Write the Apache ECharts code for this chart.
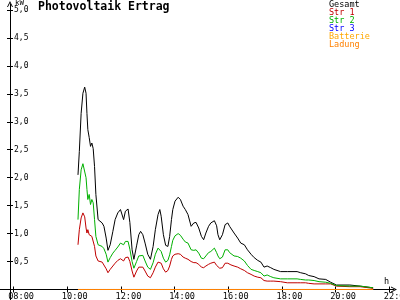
<!DOCTYPE html>
<html><head><meta charset="utf-8">
<script src="https://cdn.jsdelivr.net/npm/echarts@6/dist/echarts.min.js"></script>
<style>html,body{margin:0;padding:0;background:#fff}#c{width:400px;height:300px}</style>
</head><body><div id="c"></div>
<script>
const times = [
'10:24','10:27','10:31','10:35','10:39','10:42','10:44','10:46','10:49','10:52',
'10:55','10:58','11:01','11:04','11:09','11:13','11:18','11:22','11:27','11:31',
'11:36','11:42','11:47','11:53','11:59','12:02','12:06','12:10','12:16','12:20',
'12:25','12:29','12:35','12:40','12:44','12:49','12:54','13:00','13:06','13:12',
'13:17','13:23','13:27','13:30','13:35','13:40','13:45','13:49','13:53','13:56',
'14:01','14:08','14:13','14:19','14:24','14:30','14:37','14:43','14:48','14:54',
'15:00','15:05','15:10','15:16','15:21','15:29','15:34','15:37','15:41','15:47',
'15:53','15:59','16:03','16:06','16:13','16:21','16:28','16:36','16:43','16:51',
'16:58','17:06','17:13','17:20','17:27','17:35','17:42','17:57','18:12','18:34',
'18:42','18:53','19:00','19:12','19:23','19:38','19:49','20:02','20:32','20:55',
'21:24'];
const gesamt = [
2.05,2.47,3.15,3.51,3.62,3.51,3.15,2.86,2.72,2.56,
2.62,2.52,2.20,1.70,1.25,1.22,1.19,1.13,0.92,0.70,
0.80,1.04,1.25,1.37,1.43,1.40,1.25,1.40,1.44,1.20,
0.71,0.54,0.78,0.98,1.04,0.98,0.83,0.63,0.54,0.77,
1.07,1.34,1.43,1.31,0.98,0.79,0.77,0.95,1.25,1.43,
1.58,1.65,1.61,1.49,1.43,1.34,1.13,1.19,1.20,1.10,
0.95,0.89,1.01,1.13,1.19,1.23,1.14,0.98,0.89,0.98,
1.16,1.19,1.13,1.10,1.01,0.92,0.83,0.80,0.71,0.63,
0.57,0.52,0.49,0.40,0.42,0.39,0.36,0.32,0.32,0.32,
0.30,0.28,0.25,0.23,0.19,0.18,0.13,0.08,0.08,0.06,
0.03];
const str1 = [
0.80,1.07,1.28,1.37,1.30,1.10,1.01,1.07,0.98,1.01,
0.95,0.98,0.77,0.60,0.51,0.50,0.49,0.46,0.37,0.30,
0.36,0.42,0.47,0.52,0.55,0.57,0.51,0.57,0.58,0.50,
0.33,0.22,0.33,0.40,0.43,0.40,0.33,0.24,0.21,0.30,
0.40,0.49,0.51,0.47,0.37,0.31,0.34,0.42,0.54,0.60,
0.63,0.64,0.63,0.58,0.56,0.54,0.50,0.48,0.48,0.45,
0.40,0.39,0.42,0.45,0.47,0.49,0.43,0.40,0.38,0.39,
0.47,0.47,0.45,0.44,0.42,0.40,0.37,0.34,0.30,0.27,
0.24,0.22,0.21,0.16,0.15,0.15,0.15,0.14,0.12,0.12,
0.12,0.12,0.11,0.10,0.10,0.10,0.10,0.06,0.05,0.05,
0.02];
const str2 = [
1.25,1.79,2.14,2.25,2.22,2.00,1.79,1.61,1.70,1.52,
1.61,1.55,1.25,0.95,0.80,0.78,0.77,0.73,0.63,0.49,
0.57,0.65,0.70,0.76,0.83,0.86,0.80,0.86,0.86,0.72,
0.50,0.38,0.50,0.60,0.63,0.61,0.51,0.40,0.36,0.48,
0.63,0.74,0.74,0.68,0.56,0.49,0.52,0.62,0.77,0.88,
0.96,1.00,0.97,0.90,0.85,0.83,0.71,0.70,0.71,0.65,
0.56,0.55,0.60,0.66,0.68,0.74,0.66,0.60,0.55,0.58,
0.71,0.71,0.66,0.63,0.60,0.59,0.56,0.51,0.43,0.36,
0.34,0.32,0.30,0.24,0.26,0.23,0.21,0.19,0.19,0.19,
0.18,0.17,0.17,0.16,0.14,0.13,0.11,0.07,0.06,0.06,
0.03];
const str3 = [
0,0,0,0,0,0,0,0,0,0, 0,0,0,0,0,0,0,0,0,0, 0,0,0,0,0,0,0,0,0,0, 0,0,0,0,0,0,0,0,0,0,
0,0,0,0,0,0,0,0,0,0, 0,0,0,0,0,0,0,0,0,0, 0,0,0,0,0,0,0,0,0,0, 0,0,0,0,0,0,0,0,0,0,
0,0,0,0,0,0,0,0,0,0, 0,0,0,0,0,0,0,0,0,0, 0];
const batterie = [
0,0,0,0,0,0,0,0,0,0, 0,0,0,0,0,0,0,0,0,0, 0,0,0,0,0,0,0,0,0,0, 0,0,0,0,0,0,0,0,0,0,
0,0,0,0,0,0,0,0,0,0, 0,0,0,0,0,0,0,0,0,0, 0,0,0,0,0,0,0,0,0,0, 0,0,0,0,0,0,0,0,0,0,
0,0,0,0,0,0,0,0,0,0, 0,0,0,0,0,0,0,0,0,0, 0];
const ladung = [
0,0,0,0,0,0,0,0,0,0, 0,0,0,0,0,0,0,0,0,0, 0,0,0,0,0,0,0,0,0,0, 0,0,0,0,0,0,0,0,0,0,
0,0,0,0,0,0,0,0,0,0, 0,0,0,0,0,0,0,0,0,0, 0,0,0,0,0,0,0,0,0,0, 0,0,0,0,0,0,0,0,0,0,
0,0,0,0,0,0,0,0,0,0, 0,0,0,0,0,0,0,0,0,0, 0];
const seriesNames = ['Gesamt','Str 1','Str 2','Str 3','Batterie','Ladung'];
const xTickLabels = ['08:00','10:00','12:00','14:00','16:00','18:00','20:00','22:00'];
const yTickLabels = ['0,5','1,0','1,5','2,0','2,5','3,0','3,5','4,0','4,5','5,0'];

const colors = ['#000000','#c00000','#00b000','#0000ff','#ffa800','#ff8000'];
const FONT = 'DejaVu Sans Mono';
const toH = t => { const p = t.split(':'); return +p[0] + (+p[1]) / 60; };
const xTicks = xTickLabels.map(toH);
const yTicks = yTickLabels.map(s => parseFloat(s.replace(',', '.')));
const xLabelMap = {}; xTicks.forEach((v, i) => xLabelMap[v.toFixed(3)] = xTickLabels[i]);
const yLabelMap = {}; yTicks.forEach((v, i) => yLabelMap[v.toFixed(3)] = yTickLabels[i]);
const allVals = [gesamt, str1, str2, str3, batterie, ladung];
const arrowPath = 'path://M0,10 L5,0 L10,10 L8.4,10 L5,3.2 L1.6,10 Z';

const X_MIN = 7.493, X_MAX = 22.178, Y_MIN = -0.188, Y_MAX = 5.107;

const chart = echarts.init(document.getElementById('c'), null, {renderer: 'canvas'});
const xBase = {
  type: 'value', min: X_MIN, max: X_MAX, position: 'bottom', offset: -10.5,
  splitLine: {show: false}
};
const yBase = {
  type: 'value', min: Y_MIN, max: Y_MAX, position: 'left', offset: -10,
  splitLine: {show: false}
};
chart.setOption({
  animation: false,
  backgroundColor: '#ffffff',
  title: {
    text: 'Photovoltaik Ertrag', left: 38, top: 1, padding: 0,
    textStyle: {fontFamily: FONT, fontWeight: 'bold', fontSize: 11.5, color: '#000'}
  },
  legend: {
    orient: 'vertical', left: 324, top: 0, padding: 0, itemGap: -1,
    itemWidth: 0, itemHeight: 8, icon: 'rect', selectedMode: false,
    textStyle: {fontFamily: FONT, fontSize: 8.5, lineHeight: 8},
    data: seriesNames.map((n, i) => ({name: n, textStyle: {color: colors[i]}}))
  },
  grid: {left: 0, right: 6, top: 4, bottom: 0, containLabel: false, outerBoundsMode: 'none'},
  xAxis: [
    Object.assign({}, xBase, {
      axisLine: {show: true, onZero: false, lineStyle: {color: '#000', width: 1},
        symbol: ['none', arrowPath], symbolSize: [7, 6]},
      axisTick: {show: true, length: 3, lineStyle: {color: '#000'}, customValues: xTicks},
      axisLabel: {show: true, customValues: xTicks, margin: 3, color: '#000',
        fontFamily: FONT, fontSize: 8.6, align: 'center', padding: [0, 0, 0, 15],
        formatter: v => xLabelMap[v.toFixed(3)] || ''}
    }),
    Object.assign({}, xBase, {
      axisLine: {show: false, onZero: false},
      axisTick: {show: true, inside: true, length: 3, lineStyle: {color: '#000'}, customValues: xTicks},
      axisLabel: {show: false}
    })
  ],
  yAxis: [
    Object.assign({}, yBase, {
      axisLine: {show: true, onZero: false, lineStyle: {color: '#000', width: 1},
        symbol: ['none', arrowPath], symbolSize: [7, 6]},
      axisTick: {show: true, length: 3, lineStyle: {color: '#000'}, customValues: yTicks},
      axisLabel: {show: true, inside: true, customValues: yTicks, margin: 4, color: '#000',
        fontFamily: FONT, fontSize: 8,
        formatter: v => yLabelMap[v.toFixed(3)] || ''}
    }),
    Object.assign({}, yBase, {
      axisLine: {show: false, onZero: false},
      axisTick: {show: true, inside: true, length: 3, lineStyle: {color: '#000'}, customValues: yTicks},
      axisLabel: {show: false}
    })
  ],
  graphic: [
    {type: 'text', left: 15, top: -1, style: {text: 'kW', fontFamily: FONT, fontSize: 7.5, fill: '#000'}},
    {type: 'text', left: 384, top: 277, style: {text: 'h', fontFamily: FONT, fontSize: 8.5, fill: '#000'}}
  ],
  series: seriesNames.map((n, i) => ({
    name: n, type: 'line', xAxisIndex: 0, yAxisIndex: 0,
    showSymbol: false, symbol: 'none',
    lineStyle: {color: colors[i], width: 1},
    itemStyle: {color: colors[i]},
    data: times.map((t, k) => [toH(t), allVals[i][k]])
  }))
});
</script></body></html>
